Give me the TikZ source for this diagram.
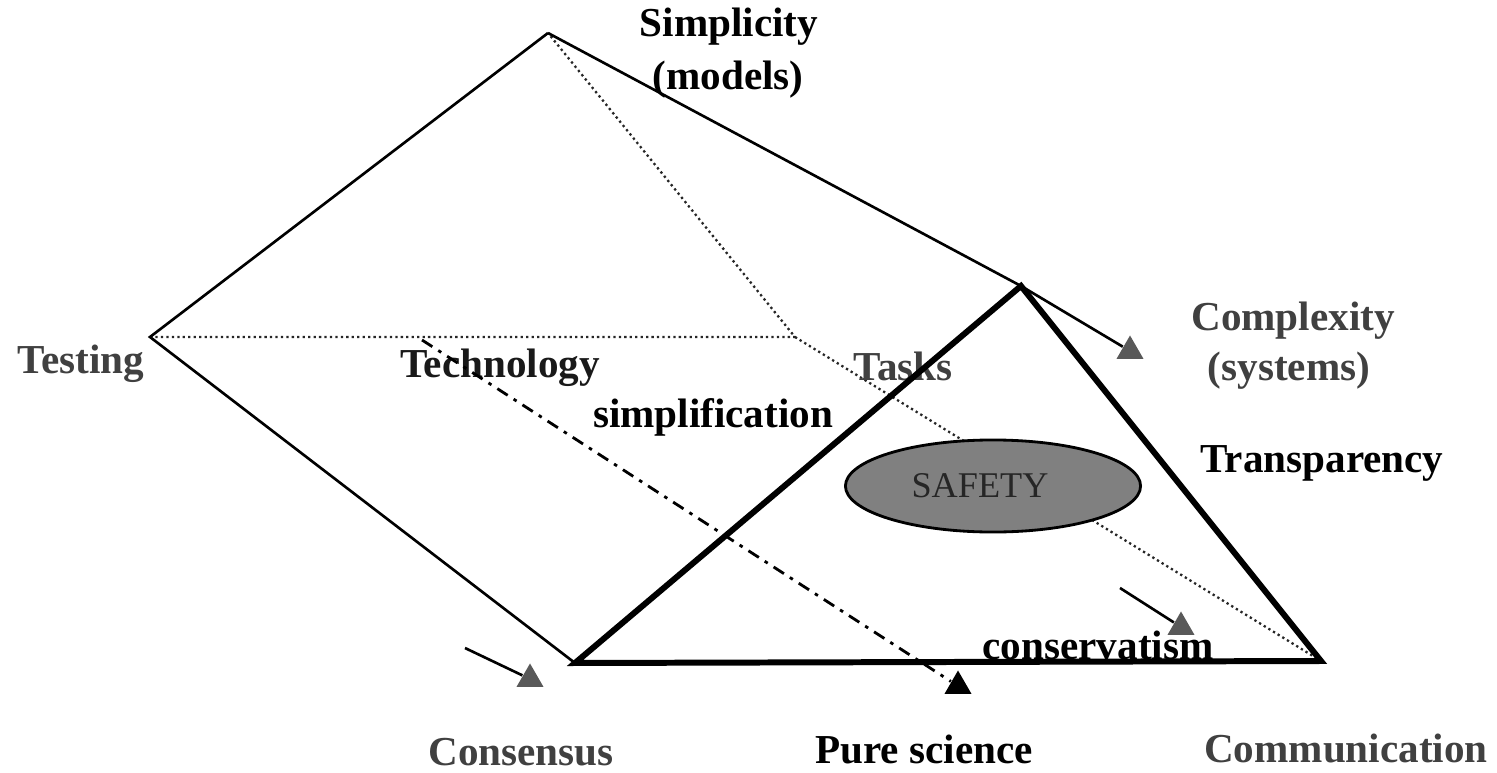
\documentclass[tikz,border=0pt]{standalone}
\usepackage{fontspec}
\setmainfont{Liberation Serif}
\usetikzlibrary{shapes.geometric}
\begin{document}
\begin{tikzpicture}[x=0.01cm,y=-0.01cm,
  lbl/.style={font=\fontsize{11.7}{13}\selectfont\bfseries, inner sep=0pt, anchor=base},
  lblg/.style={lbl, text=black!75},
  edge/.style={line width=0.75pt, black},
  dotline/.style={line width=0.65pt, black!85, dash pattern=on 0.65pt off 0.9pt},
  dashdotline/.style={line width=0.8pt, black, dash pattern=on 3.5pt off 2pt on 1pt off 2pt},
  front/.style={line width=1.7pt, black, line join=miter},
  tri/.style={regular polygon, regular polygon sides=3, minimum size=0.31cm, inner sep=0pt, draw=none}]
\useasboundingbox (0,0) rectangle (1497,773);
% vertices
\coordinate (A) at (548,33);
\coordinate (T) at (150,337);
\coordinate (B) at (795,337);
\coordinate (F) at (1021,286);
\coordinate (L) at (575,663);
\coordinate (R) at (1321,661);
\coordinate (D0) at (422,340);
\coordinate (C0) at (465,648);
\coordinate (S0) at (1120,588);
% arrow-end triangles
\node[tri, fill=black!65] (tC) at (1130,351) {};
\node[tri, fill=black!65] (tCo) at (530,679) {};
\node[tri, fill=black] (tP) at (958,686) {};
\node[tri, fill=black!65] (tS) at (1181,627) {};
% back (hidden) edges
\draw[dotline] (T) -- (B) -- (A);
\draw[dotline] (B) -- (R);
% thin edges
\draw[edge] (A) -- (T) -- (L);
\draw[edge] (A) -- (F) -- (tC);
\draw[edge] (C0) -- (tCo);
\draw[edge] (S0) -- (tS);
% safety ellipse
\node[ellipse, draw=black, line width=0.8pt, fill=black!50, minimum width=2.95cm, minimum height=0.92cm, inner sep=0pt] (safety) at (993,486) {};
\node[font=\fontsize{10.3}{12}\selectfont, text=black!85, inner sep=0pt, anchor=base] (safetytxt) at (980,497) {SAFETY};
% labels
\node[lbl] (simp) at (729,37) {Simplicity};
\node[lbl] (mod) at (728,90) {(models)};
\node[lblg] (test) at (81,373) {Testing};
\node[lbl, text=black!90] (tech) at (500,377) {Technology};
\node[lblg] (tasks) at (903,380) {Tasks};
\node[lbl] (simpl) at (713,427) {simplification};
\node[lblg] (comp) at (1293,330) {Complexity};
\node[lblg] (sys) at (1289,380) {(systems)};
\node[lbl] (transp) at (1322,472) {Transparency};
\node[lbl] (cons) at (1098,659) {conservatism};
\node[lblg] (consens) at (521,765) {Consensus};
\node[lbl] (pure) at (924,763) {Pure science};
\node[lblg] (comm) at (1346,762) {Communication};
% dash-dot arrow
\draw[dashdotline] (D0) -- (tP);
% front triangle
\draw[front] (L) -- (F) -- (R) -- cycle;
\end{tikzpicture}
\end{document}
